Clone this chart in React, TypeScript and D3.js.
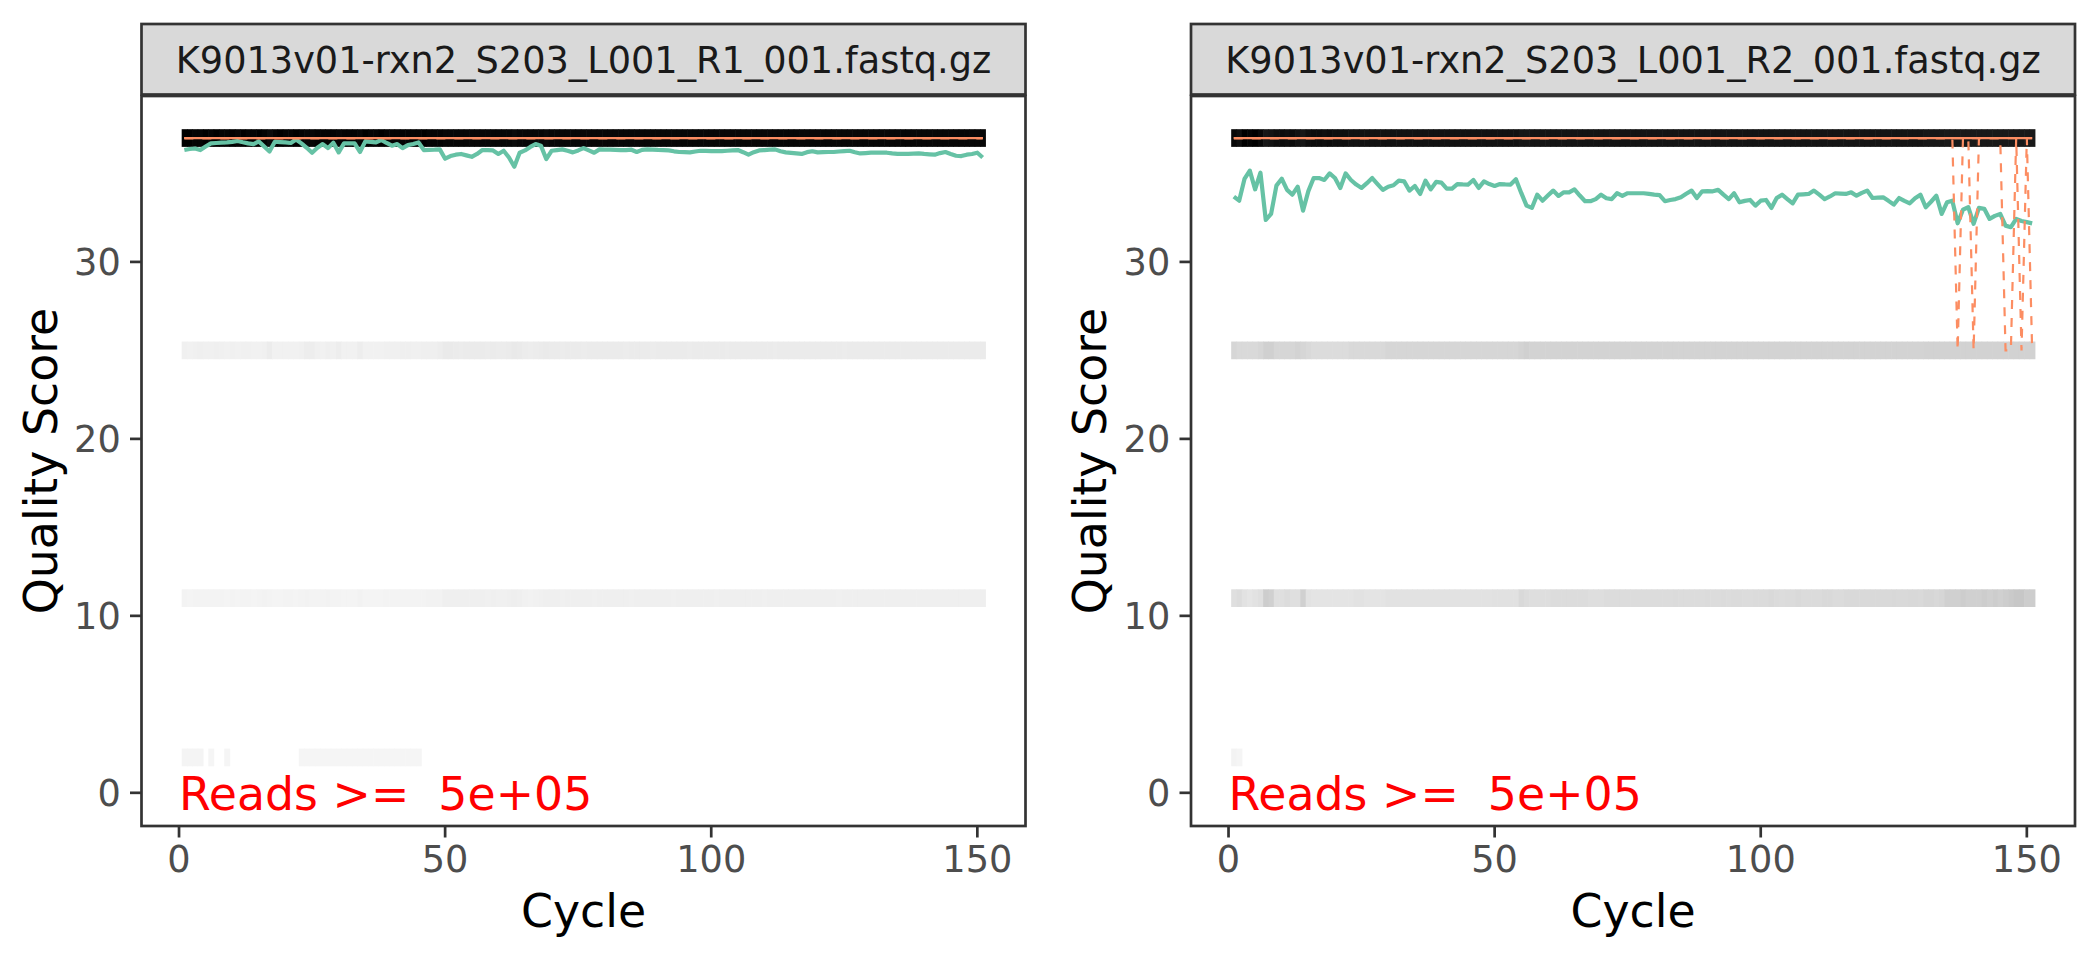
import React from 'react';
import * as d3 from 'd3';

// ---------------- DATA ----------------
const FILES = [
  'K9013v01-rxn2_S203_L001_R1_001.fastq.gz',
  'K9013v01-rxn2_S203_L001_R2_001.fastq.gz',
];
const SCORES = [37, 25, 11, 2];
const X_TICKS = [0, 50, 100, 150];
const Y_TICKS = [0, 10, 20, 30];
const READS_LABEL = 'Reads >=  5e+05';
const X_TITLE = 'Cycle';
const Y_TITLE = 'Quality Score';

// mean quality per cycle (cycles 1..151)
const R1_MEAN = [
  36.32, 36.38, 36.41, 36.32, 36.52, 36.70, 36.72, 36.74, 36.75, 36.78,
  36.83, 36.76, 36.70, 36.66, 36.81, 36.52, 36.24, 36.79, 36.77, 36.75,
  36.72, 36.92, 36.70, 36.45, 36.17, 36.45, 36.66, 36.43, 36.73, 36.19,
  36.70, 36.70, 36.70, 36.21, 36.81, 36.78, 36.75, 36.89, 36.72, 36.57,
  36.66, 36.43, 36.60, 36.66, 36.75, 36.32, 36.33, 36.34, 36.36, 35.83,
  35.98, 36.06, 36.10, 36.02, 35.94, 36.10, 36.32, 36.32, 36.30, 36.10,
  36.28, 35.90, 35.38, 36.17, 36.30, 36.50, 36.66, 36.57, 35.81, 36.28,
  36.32, 36.36, 36.28, 36.19, 36.30, 36.43, 36.30, 36.17, 36.36, 36.35,
  36.34, 36.33, 36.32, 36.32, 36.34, 36.21, 36.33, 36.36, 36.35, 36.33,
  36.32, 36.30, 36.25, 36.21, 36.20, 36.19, 36.24, 36.28, 36.27, 36.26,
  36.26, 36.26, 36.28, 36.30, 36.32, 36.20, 36.06, 36.20, 36.30, 36.32,
  36.34, 36.36, 36.25, 36.19, 36.16, 36.13, 36.10, 36.20, 36.25, 36.19,
  36.20, 36.21, 36.21, 36.24, 36.26, 36.28, 36.20, 36.13, 36.15, 36.17,
  36.17, 36.17, 36.17, 36.13, 36.10, 36.10, 36.11, 36.12, 36.13, 36.10,
  36.08, 36.06, 36.15, 36.21, 36.10, 36.00, 35.98, 36.06, 36.10, 36.17, 35.90,
];
const R2_MEAN = [
  33.69, 33.46, 34.69, 35.16, 34.10, 35.04, 32.37, 32.71, 34.31, 34.70,
  34.07, 33.80, 34.25, 32.90, 34.00, 34.74, 34.74, 34.63, 35.00, 34.74,
  34.18, 35.00, 34.63, 34.37, 34.18, 34.45, 34.74, 34.40, 34.07, 34.25,
  34.33, 34.59, 34.55, 34.03, 34.29, 33.84, 34.59, 34.10, 34.52, 34.48,
  34.14, 34.14, 34.40, 34.38, 34.37, 34.63, 34.18, 34.55, 34.40, 34.29,
  34.40, 34.38, 34.37, 34.67, 33.90, 33.18, 33.05, 33.80, 33.46, 33.75,
  34.03, 33.73, 33.93, 33.93, 34.10, 33.75, 33.43, 33.43, 33.55, 33.80,
  33.60, 33.55, 33.88, 33.73, 33.88, 33.88, 33.88, 33.88, 33.84, 33.80,
  33.77, 33.43, 33.50, 33.55, 33.65, 33.85, 34.03, 33.61, 33.99, 34.00,
  33.99, 34.07, 33.80, 33.55, 33.88, 33.37, 33.45, 33.50, 33.18, 33.46,
  33.50, 33.05, 33.61, 33.80, 33.55, 33.31, 33.80, 33.82, 33.84, 34.03,
  33.80, 33.55, 33.70, 33.88, 33.86, 33.84, 33.93, 33.74, 33.90, 34.03,
  33.61, 33.63, 33.65, 33.45, 33.24, 33.61, 33.45, 33.31, 33.60, 33.80,
  33.09, 33.40, 33.74, 32.71, 33.37, 33.46, 32.18, 32.95, 33.09, 32.15,
  33.05, 33.00, 32.43, 32.60, 32.71, 32.05, 31.96, 32.43, 32.31, 32.25, 32.18,
];

// quartile lines (Q25 / median / Q75)
const Q_AT_37 = [
  37, 37, 37, 37, 37, 37, 37, 37, 37, 37, 37, 37, 37, 37, 37, 37, 37, 37, 37, 37,
  37, 37, 37, 37, 37, 37, 37, 37, 37, 37, 37, 37, 37, 37, 37, 37, 37, 37, 37, 37,
  37, 37, 37, 37, 37, 37, 37, 37, 37, 37, 37, 37, 37, 37, 37, 37, 37, 37, 37, 37,
  37, 37, 37, 37, 37, 37, 37, 37, 37, 37, 37, 37, 37, 37, 37, 37, 37, 37, 37, 37,
  37, 37, 37, 37, 37, 37, 37, 37, 37, 37, 37, 37, 37, 37, 37, 37, 37, 37, 37, 37,
  37, 37, 37, 37, 37, 37, 37, 37, 37, 37, 37, 37, 37, 37, 37, 37, 37, 37, 37, 37,
  37, 37, 37, 37, 37, 37, 37, 37, 37, 37, 37, 37, 37, 37, 37, 37, 37, 37, 37, 37,
  37, 37, 37, 37, 37, 37, 37, 37, 37, 37, 37,
];
const R2_Q25 = [
  37, 37, 37, 37, 37, 37, 37, 37, 37, 37, 37, 37, 37, 37, 37, 37, 37, 37, 37, 37,
  37, 37, 37, 37, 37, 37, 37, 37, 37, 37, 37, 37, 37, 37, 37, 37, 37, 37, 37, 37,
  37, 37, 37, 37, 37, 37, 37, 37, 37, 37, 37, 37, 37, 37, 37, 37, 37, 37, 37, 37,
  37, 37, 37, 37, 37, 37, 37, 37, 37, 37, 37, 37, 37, 37, 37, 37, 37, 37, 37, 37,
  37, 37, 37, 37, 37, 37, 37, 37, 37, 37, 37, 37, 37, 37, 37, 37, 37, 37, 37, 37,
  37, 37, 37, 37, 37, 37, 37, 37, 37, 37, 37, 37, 37, 37, 37, 37, 37, 37, 37, 37,
  37, 37, 37, 37, 37, 37, 37, 37, 37, 37, 37, 37, 37, 37, 37, 37, 25, 37, 37, 25,
  37, 37, 37, 37, 37, 25, 25, 37, 25, 37, 25,
];

// read counts (% of reads) per cycle in each quality-score bin
const R1_C37 = [
  96, 96, 95, 95, 96, 95, 96, 95, 95, 96, 95, 96, 95, 95, 96, 95, 93, 95, 96, 95,
  95, 96, 95, 94, 94, 95, 95, 95, 95, 94, 95, 95, 95, 94, 96, 95, 95, 96, 95, 95,
  95, 95, 95, 95, 95, 96, 95, 95, 95, 94, 94, 94, 94, 94, 94, 94, 94, 94, 94, 94,
  94, 94, 93, 94, 94, 94, 94, 94, 93, 94, 94, 94, 94, 94, 94, 94, 94, 94, 94, 94,
  94, 94, 94, 94, 94, 94, 94, 94, 94, 94, 94, 94, 94, 94, 94, 94, 94, 94, 94, 94,
  94, 94, 94, 94, 94, 94, 94, 94, 94, 94, 94, 94, 94, 94, 94, 94, 94, 94, 94, 94,
  94, 94, 94, 94, 94, 94, 94, 94, 94, 94, 94, 94, 94, 94, 94, 94, 94, 94, 94, 94,
  94, 94, 94, 94, 94, 94, 94, 94, 94, 94, 94,
];
const R1_C25 = [
  2.0, 1.8, 2.0, 2.2, 2.0, 2.0, 2.2, 2.0, 1.8, 2.0, 1.8, 2.0, 2.0, 1.8, 1.8, 2.0, 3.5, 1.6, 1.6, 1.8,
  1.8, 1.6, 2.0, 3.0, 3.0, 2.0, 1.8, 2.2, 2.0, 3.0, 1.8, 1.8, 1.8, 3.2, 1.8, 1.6, 1.8, 1.6, 2.0, 2.0,
  2.0, 2.2, 2.2, 2.0, 2.0, 2.5, 2.5, 2.5, 3.0, 4.0, 4.0, 3.8, 3.5, 3.8, 3.6, 3.8, 3.6, 3.5, 3.6, 3.5,
  3.5, 3.6, 4.5, 4.2, 3.4, 3.2, 3.4, 3.6, 4.2, 3.6, 3.6, 3.5, 3.6, 3.7, 3.6, 3.5, 3.6, 3.7, 3.6, 3.6,
  3.7, 3.6, 3.6, 3.5, 3.6, 3.7, 3.6, 3.6, 3.5, 3.6, 3.6, 3.7, 3.6, 3.6, 3.6, 3.5, 3.6, 3.6, 3.7, 3.6,
  3.6, 3.6, 3.5, 3.6, 3.7, 3.6, 3.6, 3.6, 3.6, 3.7, 3.6, 3.5, 3.6, 3.6, 3.7, 3.6, 3.6, 3.6, 3.6, 3.6,
  3.7, 3.6, 3.6, 3.6, 3.5, 3.6, 3.6, 3.7, 3.6, 3.6, 3.6, 3.6, 3.7, 3.6, 3.6, 3.6, 3.6, 3.6, 3.8, 3.6,
  3.6, 3.6, 3.7, 3.6, 3.6, 3.7, 3.6, 3.8, 3.6, 3.6, 3.6,
];
const R1_C11 = [
  0.9, 0.8, 0.9, 1.0, 0.9, 0.9, 1.0, 0.9, 0.8, 0.9, 0.8, 0.9, 0.9, 0.8, 1.0, 1.2, 1.0, 0.8, 0.8, 0.9,
  0.9, 0.8, 0.9, 1.2, 1.1, 0.9, 0.9, 1.2, 1.0, 1.1, 0.8, 0.8, 0.8, 1.2, 0.8, 0.7, 0.8, 0.7, 0.9, 1.0,
  0.9, 1.1, 1.0, 0.9, 0.9, 1.1, 1.2, 1.2, 1.4, 2.4, 2.5, 2.3, 2.2, 2.3, 2.2, 2.3, 2.2, 2.1, 2.2, 2.1,
  2.1, 2.2, 2.8, 2.5, 1.6, 1.5, 1.6, 2.0, 2.4, 2.2, 2.2, 2.1, 2.2, 2.2, 2.3, 2.2, 2.2, 2.1, 2.2, 2.2,
  2.2, 2.3, 2.2, 2.2, 2.1, 2.2, 2.2, 2.3, 2.2, 2.2, 2.2, 2.2, 2.1, 2.2, 2.2, 2.3, 2.2, 2.2, 2.2, 2.2,
  2.1, 2.2, 2.2, 2.3, 2.2, 2.2, 2.2, 2.2, 2.2, 2.1, 2.2, 2.2, 2.3, 2.2, 2.2, 2.2, 2.2, 2.2, 2.2, 2.3,
  2.2, 2.2, 2.2, 2.1, 2.2, 2.2, 2.2, 2.3, 2.2, 2.2, 2.2, 2.2, 2.2, 2.2, 2.2, 2.3, 2.2, 2.2, 2.2, 2.2,
  2.2, 2.3, 2.2, 2.2, 2.2, 2.2, 2.3, 2.2, 2.2, 2.2, 2.2,
];
const R1_C2 = [
  0.5, 0.5, 0.5, 0.5, 0, 0.3, 0, 0, 0.3, 0, 0, 0, 0, 0, 0, 0, 0, 0, 0, 0,
  0, 0, 0.4, 0.4, 0.4, 0.4, 0.4, 0.4, 0.4, 0.4, 0.4, 0.4, 0.4, 0.4, 0.4, 0.4, 0.4, 0.4, 0.4, 0.4,
  0.4, 0.4, 0.4, 0.4, 0.4, 0, 0, 0, 0, 0, 0, 0, 0, 0, 0, 0, 0, 0, 0, 0,
  0, 0, 0, 0, 0, 0, 0, 0, 0, 0, 0, 0, 0, 0, 0, 0, 0, 0, 0, 0,
  0, 0, 0, 0, 0, 0, 0, 0, 0, 0, 0, 0, 0, 0, 0, 0, 0, 0, 0, 0,
  0, 0, 0, 0, 0, 0, 0, 0, 0, 0, 0, 0, 0, 0, 0, 0, 0, 0, 0, 0,
  0, 0, 0, 0, 0, 0, 0, 0, 0, 0, 0, 0, 0, 0, 0, 0, 0, 0, 0, 0,
  0, 0, 0, 0, 0, 0, 0, 0, 0, 0, 0,
];
const R2_C37 = [
  88, 86, 90, 89, 90, 88, 83, 84, 86, 87, 86, 87, 85, 83, 86, 87, 87, 86, 87, 86,
  86, 86, 85, 85, 85, 85, 85, 85, 85, 85, 85, 85, 85, 85, 85, 85, 85, 85, 85, 85,
  85, 85, 85, 85, 85, 85, 85, 85, 85, 85, 85, 85, 85, 85, 83, 83, 84, 84, 84, 84,
  84, 84, 84, 84, 84, 84, 84, 84, 84, 84, 84, 84, 84, 84, 84, 84, 84, 84, 84, 84,
  84, 84, 84, 84, 84, 84, 84, 84, 84, 84, 84, 84, 84, 84, 84, 84, 84, 84, 84, 84,
  84, 84, 84, 84, 84, 84, 84, 84, 84, 84, 84, 84, 84, 84, 84, 84, 84, 84, 84, 84,
  84, 84, 84, 84, 84, 84, 84, 84, 84, 84, 83, 83, 83, 83, 82, 82, 82, 82, 82, 82,
  82, 82, 82, 82, 82, 82, 82, 82, 82, 82, 82,
];
const R2_C25 = [
  11, 10, 10, 10, 10, 11, 13, 13, 11, 11, 11, 11, 12, 11, 10, 9, 9, 9, 9, 9,
  9, 9, 10, 10, 10, 10, 10, 10, 10, 11, 11, 11, 11, 11, 11, 11, 11, 11, 11, 11,
  11, 11, 11, 11, 11, 11, 11, 11, 11, 11, 11, 11, 11, 11, 12, 13, 12, 12, 12, 12,
  12, 12, 12, 12, 12, 12, 12, 12, 12, 12, 12, 12, 12, 12, 12, 12, 12, 12, 12, 12,
  12, 12, 12, 12, 12, 12, 12, 12, 12, 12, 12, 12, 12, 12, 12, 12, 12, 12, 12, 12,
  12, 12, 12, 12, 12, 12, 12, 12, 12, 12, 12, 12, 12, 12, 12, 12, 12, 12, 12, 12,
  12, 12, 12, 12, 12, 12, 12, 12, 12, 12, 12.5, 12.5, 12.5, 12.5, 12.5, 12.5, 12.5, 12.5, 12.5, 12.5,
  12.5, 12.5, 12.5, 12.5, 12.5, 12.5, 12.5, 12.5, 12.5, 12.5, 12.5,
];
const R2_C11 = [
  8, 9, 7, 6, 7, 8, 14, 13, 8, 8, 9, 8, 8, 13, 7, 6.5, 6.5, 6.5, 6.5, 6.5,
  6.5, 6.5, 6.5, 7, 7, 6.5, 6.5, 6.5, 6.5, 7, 7, 7, 7, 7, 7, 7, 7, 7, 7, 7,
  7, 7, 7, 7, 7, 7, 7, 7, 7, 7.5, 7.5, 7.5, 7.5, 7.5, 10, 9, 8.5, 8.5, 8.5, 8.5,
  9, 9, 9, 9, 9, 9, 9, 8.5, 8.5, 8.5, 9, 9, 9, 9, 9, 9, 9, 9, 9, 9,
  9, 9, 9, 9.5, 9, 9, 9, 9, 9, 9.5, 9, 9, 9.5, 9, 9.5, 9.5, 9, 9, 9.5, 9.5,
  9.5, 10, 9.5, 9, 9.5, 9.5, 10, 9.5, 9.5, 9.5, 9.5, 10, 10, 9.5, 9.5, 10, 10, 10, 10, 10,
  10, 10, 10, 10, 10.5, 10, 10, 10.5, 10.5, 10, 11, 11, 10.5, 11, 13, 13, 13, 14, 13, 13,
  13, 14, 13, 14, 13, 14, 15, 16, 16, 14, 14,
];
const R2_C2 = [
  1.5, 1.0, 0, 0, 0, 0, 0, 0, 0, 0, 0, 0, 0, 0, 0, 0, 0, 0, 0, 0,
  0, 0, 0, 0, 0, 0, 0, 0, 0, 0, 0, 0, 0, 0, 0, 0, 0, 0, 0, 0,
  0, 0, 0, 0, 0, 0, 0, 0, 0, 0, 0, 0, 0, 0, 0, 0, 0, 0, 0, 0,
  0, 0, 0, 0, 0, 0, 0, 0, 0, 0, 0, 0, 0, 0, 0, 0, 0, 0, 0, 0,
  0, 0, 0, 0, 0, 0, 0, 0, 0, 0, 0, 0, 0, 0, 0, 0, 0, 0, 0, 0,
  0, 0, 0, 0, 0, 0, 0, 0, 0, 0, 0, 0, 0, 0, 0, 0, 0, 0, 0, 0,
  0, 0, 0, 0, 0, 0, 0, 0, 0, 0, 0, 0, 0, 0, 0, 0, 0, 0, 0, 0,
  0, 0, 0, 0, 0, 0, 0, 0, 0, 0, 0,
];

// ---------------- STYLE / LAYOUT ----------------
const FONT = 'DejaVu Sans, Verdana, sans-serif';
const PANEL_TOP = 96;
const PANEL_BOTTOM = 826;
const PANEL_W = 884;
const STRIP_TOP = 24;
const X_DOMAIN: [number, number] = [-7.05, 159.05];
const Y_DOMAIN: [number, number] = [-1.875, 39.375];
const GREY20 = '#333333';

type PanelProps = {
  left: number;
  file: string;
  mean: number[];
  q25: number[];
  q50: number[];
  q75: number[];
  counts: number[][]; // aligned with SCORES
};

function Panel({ left, file, mean, q25, q50, q75, counts }: PanelProps) {
  const right = left + PANEL_W;
  const x = d3.scaleLinear().domain(X_DOMAIN).range([left, right]);
  const y = d3.scaleLinear().domain(Y_DOMAIN).range([PANEL_BOTTOM, PANEL_TOP]);
  const positive = counts.flat().filter((v) => v > 0);
  const fill = d3
    .scaleLinear<string>()
    .domain([d3.min(positive) as number, d3.max(positive) as number])
    .range(['#F5F5F5', '#000000'])
    .interpolate(d3.interpolateLab);

  const line = d3
    .line<number>()
    .x((_, i) => x(i + 1))
    .y((d) => y(d));

  const cx = (left + right) / 2;

  return (
    <g>
      {/* strip */}
      <rect
        x={left}
        y={STRIP_TOP}
        width={PANEL_W}
        height={PANEL_TOP - STRIP_TOP - 1.5}
        fill="#D9D9D9"
        stroke={GREY20}
        strokeWidth={2.7}
      />
      <text x={cx} y={72.6} textAnchor="middle" fontFamily={FONT} fontSize={36.7} fill="#1A1A1A">
        {file}
      </text>
      {/* panel background */}
      <rect x={left} y={PANEL_TOP} width={PANEL_W} height={PANEL_BOTTOM - PANEL_TOP} fill="#FFFFFF" />
      {/* tiles */}
      {SCORES.map((s, si) =>
        counts[si].map((v, i) => {
          if (!(v > 0)) return null;
          const c = i + 1;
          const x0 = x(c - 0.5);
          const x1 = x(c + 0.5);
          const y0 = y(s + 0.5);
          const y1 = y(s - 0.5);
          return (
            <rect
              key={`t${si}-${i}`}
              x={x0}
              y={y0}
              width={x1 - x0 + 0.6}
              height={y1 - y0}
              fill={fill(v)}
            />
          );
        })
      )}
      {/* mean */}
      <path d={line(mean) || ''} fill="none" stroke="#66C2A5" strokeWidth={4.2} strokeLinejoin="round" />
      {/* quartiles */}
      <path d={line(q25) || ''} fill="none" stroke="#FC8D62" strokeWidth={2.2} strokeDasharray="9 9" />
      <path d={line(q50) || ''} fill="none" stroke="#FC8D62" strokeWidth={2.2} />
      <path d={line(q75) || ''} fill="none" stroke="#FC8D62" strokeWidth={2.2} strokeDasharray="9 9" />
      {/* reads annotation */}
      <text
        x={x(0)}
        y={y(0) + 0.365 * 45.8}
        fontFamily={FONT}
        fontSize={45.8}
        fill="#FF0000"
        style={{ whiteSpace: 'pre' }}
      >
        {READS_LABEL}
      </text>
      {/* panel border */}
      <rect
        x={left}
        y={PANEL_TOP}
        width={PANEL_W}
        height={PANEL_BOTTOM - PANEL_TOP}
        fill="none"
        stroke={GREY20}
        strokeWidth={2.7}
      />
      {/* x axis */}
      {X_TICKS.map((t) => (
        <g key={`xt${t}`}>
          <line x1={x(t)} x2={x(t)} y1={PANEL_BOTTOM} y2={PANEL_BOTTOM + 11.5} stroke={GREY20} strokeWidth={2.7} />
          <text x={x(t)} y={872} textAnchor="middle" fontFamily={FONT} fontSize={36.7} fill="#4D4D4D">
            {t}
          </text>
        </g>
      ))}
      {/* y axis */}
      {Y_TICKS.map((t) => (
        <g key={`yt${t}`}>
          <line x1={left - 11.5} x2={left} y1={y(t)} y2={y(t)} stroke={GREY20} strokeWidth={2.7} />
          <text
            x={left - 11.5 - 9.2}
            y={y(t) + 0.365 * 36.7}
            textAnchor="end"
            fontFamily={FONT}
            fontSize={36.7}
            fill="#4D4D4D"
          >
            {t}
          </text>
        </g>
      ))}
      {/* titles */}
      <text x={cx} y={927} textAnchor="middle" fontFamily={FONT} fontSize={45.8} fill="#000000">
        {X_TITLE}
      </text>
      <text
        transform={`translate(${left - 85},${(PANEL_TOP + PANEL_BOTTOM) / 2}) rotate(-90)`}
        textAnchor="middle"
        fontFamily={FONT}
        fontSize={45.8}
        fill="#000000"
      >
        {Y_TITLE}
      </text>
    </g>
  );
}

export default function App() {
  return (
    <svg width={2100} height={960} style={{ position: 'absolute', left: 0, top: 0, background: '#FFFFFF' }}>
      <rect x={0} y={0} width={2100} height={960} fill="#FFFFFF" />
      <Panel
        left={141.5}
        file={FILES[0]}
        mean={R1_MEAN}
        q25={Q_AT_37}
        q50={Q_AT_37}
        q75={Q_AT_37}
        counts={[R1_C37, R1_C25, R1_C11, R1_C2]}
      />
      <Panel
        left={1191}
        file={FILES[1]}
        mean={R2_MEAN}
        q25={R2_Q25}
        q50={Q_AT_37}
        q75={Q_AT_37}
        counts={[R2_C37, R2_C25, R2_C11, R2_C2]}
      />
    </svg>
  );
}
